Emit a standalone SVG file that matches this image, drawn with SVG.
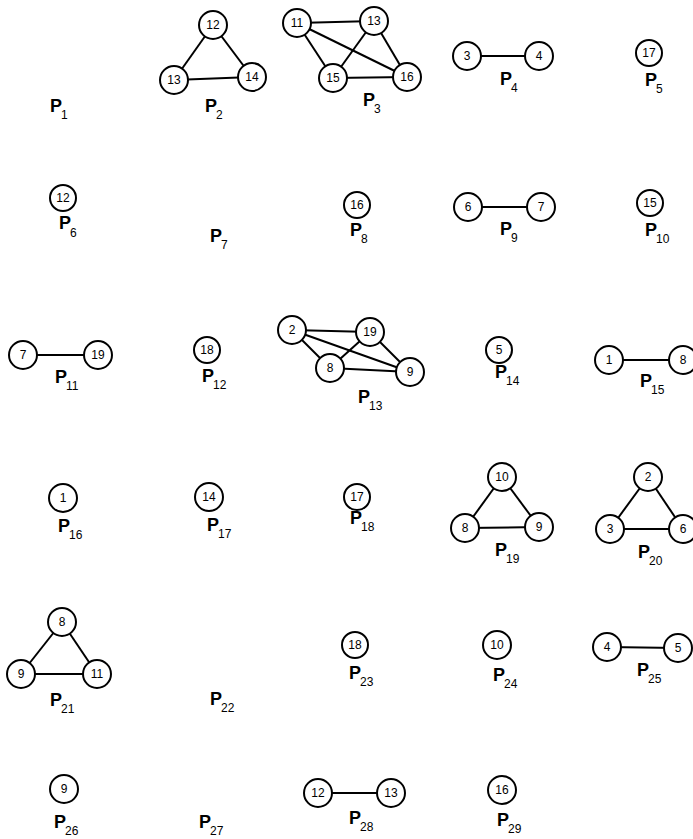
<svg xmlns="http://www.w3.org/2000/svg" width="693" height="839" viewBox="0 0 693 839">
<style>
.bg{fill:#fff}
circle{fill:#fff;stroke:#000;stroke-width:2}
.n{font-family:"Liberation Sans",Arial,sans-serif;font-size:12px;text-anchor:middle;dominant-baseline:central;fill:#000}
.p{font-family:"Liberation Sans",Arial,sans-serif;font-size:18px;font-weight:bold;fill:#000}
.s{font-size:12px;font-weight:normal}
#edges line{stroke:#000;stroke-width:2}
</style>
<rect class="bg" width="693" height="839"/>
<g id="edges">
<line x1="213" y1="25" x2="174" y2="80"/><line x1="213" y1="25" x2="252" y2="77"/><line x1="174" y1="80" x2="252" y2="77"/>
<line x1="297" y1="23" x2="374" y2="21"/><line x1="297" y1="23" x2="333" y2="78"/><line x1="297" y1="23" x2="407" y2="77"/><line x1="374" y1="21" x2="333" y2="78"/><line x1="374" y1="21" x2="407" y2="77"/><line x1="333" y1="78" x2="407" y2="77"/>
<line x1="467" y1="56" x2="539" y2="56"/>
<line x1="468" y1="207" x2="541" y2="207"/>
<line x1="23" y1="355" x2="98" y2="355"/>
<line x1="292" y1="330" x2="370" y2="332"/><line x1="292" y1="330" x2="410" y2="372"/><line x1="292" y1="330" x2="330" y2="368"/><line x1="370" y1="332" x2="330" y2="368"/><line x1="370" y1="332" x2="410" y2="372"/><line x1="330" y1="368" x2="410" y2="372"/>
<line x1="609" y1="360" x2="683" y2="360"/>
<line x1="502" y1="477" x2="465" y2="528"/><line x1="502" y1="477" x2="539" y2="527"/><line x1="465" y1="528" x2="539" y2="527"/>
<line x1="648" y1="477" x2="610" y2="529"/><line x1="648" y1="477" x2="683" y2="529"/><line x1="610" y1="529" x2="683" y2="529"/>
<line x1="62" y1="622" x2="21" y2="674"/><line x1="62" y1="622" x2="97" y2="674"/><line x1="21" y1="674" x2="97" y2="674"/>
<line x1="607" y1="647" x2="678" y2="648"/>
<line x1="318" y1="793" x2="391" y2="793"/>
</g>
<g id="P1"><text class="p" x="50" y="112">P<tspan class="s" dx="-1" dy="7">1</tspan></text></g>
<g id="P2"><circle cx="213" cy="25" r="14"/><text class="n" x="213" y="25">12</text><circle cx="174" cy="80" r="14"/><text class="n" x="174" y="80">13</text><circle cx="252" cy="77" r="14"/><text class="n" x="252" y="77">14</text><text class="p" x="205" y="112">P<tspan class="s" dx="-1" dy="7">2</tspan></text></g>
<g id="P3"><circle cx="297" cy="23" r="14"/><text class="n" x="297" y="23">11</text><circle cx="374" cy="21" r="14"/><text class="n" x="374" y="21">13</text><circle cx="333" cy="78" r="14"/><text class="n" x="333" y="78">15</text><circle cx="407" cy="77" r="14"/><text class="n" x="407" y="77">16</text><text class="p" x="363" y="106">P<tspan class="s" dx="-1" dy="7">3</tspan></text></g>
<g id="P4"><circle cx="467" cy="56" r="14"/><text class="n" x="467" y="56">3</text><circle cx="539" cy="56" r="14"/><text class="n" x="539" y="56">4</text><text class="p" x="500" y="85">P<tspan class="s" dx="-1" dy="7">4</tspan></text></g>
<g id="P5"><circle cx="649" cy="53" r="13"/><text class="n" x="649" y="53">17</text><text class="p" x="645" y="86">P<tspan class="s" dx="-1" dy="7">5</tspan></text></g>
<g id="P6"><circle cx="63" cy="198" r="13"/><text class="n" x="63" y="198">12</text><text class="p" x="59" y="229">P<tspan class="s" dx="-1" dy="8">6</tspan></text></g>
<g id="P7"><text class="p" x="210" y="242">P<tspan class="s" dx="-1" dy="7">7</tspan></text></g>
<g id="P8"><circle cx="357" cy="205" r="13"/><text class="n" x="357" y="205">16</text><text class="p" x="350" y="236">P<tspan class="s" dx="-1" dy="7">8</tspan></text></g>
<g id="P9"><circle cx="468" cy="207" r="14"/><text class="n" x="468" y="207">6</text><circle cx="541" cy="207" r="14"/><text class="n" x="541" y="207">7</text><text class="p" x="500" y="235">P<tspan class="s" dx="-1" dy="7">9</tspan></text></g>
<g id="P10"><circle cx="650" cy="203" r="13"/><text class="n" x="650" y="203">15</text><text class="p" x="645" y="236">P<tspan class="s" dx="-1" dy="7">10</tspan></text></g>
<g id="P11"><circle cx="23" cy="355" r="14"/><text class="n" x="23" y="355">7</text><circle cx="98" cy="355" r="14"/><text class="n" x="98" y="355">19</text><text class="p" x="55" y="383">P<tspan class="s" dx="-1" dy="7">11</tspan></text></g>
<g id="P12"><circle cx="207" cy="350" r="13"/><text class="n" x="207" y="350">18</text><text class="p" x="202" y="382">P<tspan class="s" dx="-1" dy="7">12</tspan></text></g>
<g id="P13"><circle cx="292" cy="330" r="14"/><text class="n" x="292" y="330">2</text><circle cx="370" cy="332" r="14"/><text class="n" x="370" y="332">19</text><circle cx="330" cy="368" r="14"/><text class="n" x="330" y="368">8</text><circle cx="410" cy="372" r="14"/><text class="n" x="410" y="372">9</text><text class="p" x="358" y="403">P<tspan class="s" dx="-1" dy="7">13</tspan></text></g>
<g id="P14"><circle cx="499" cy="350" r="13"/><text class="n" x="499" y="350">5</text><text class="p" x="495" y="378">P<tspan class="s" dx="-1" dy="7">14</tspan></text></g>
<g id="P15"><circle cx="609" cy="360" r="14"/><text class="n" x="609" y="360">1</text><circle cx="683" cy="360" r="14"/><text class="n" x="683" y="360">8</text><text class="p" x="640" y="387">P<tspan class="s" dx="-1" dy="7">15</tspan></text></g>
<g id="P16"><circle cx="63" cy="498" r="14"/><text class="n" x="63" y="498">1</text><text class="p" x="58" y="532">P<tspan class="s" dx="-1" dy="7">16</tspan></text></g>
<g id="P17"><circle cx="209" cy="497" r="14"/><text class="n" x="209" y="497">14</text><text class="p" x="207" y="531">P<tspan class="s" dx="-1" dy="7">17</tspan></text></g>
<g id="P18"><circle cx="357" cy="497" r="13"/><text class="n" x="357" y="497">17</text><text class="p" x="350" y="524">P<tspan class="s" dx="-1" dy="7">18</tspan></text></g>
<g id="P19"><circle cx="502" cy="477" r="14"/><text class="n" x="502" y="477">10</text><circle cx="465" cy="528" r="14"/><text class="n" x="465" y="528">8</text><circle cx="539" cy="527" r="14"/><text class="n" x="539" y="527">9</text><text class="p" x="495" y="556">P<tspan class="s" dx="-1" dy="7">19</tspan></text></g>
<g id="P20"><circle cx="648" cy="477" r="14"/><text class="n" x="648" y="477">2</text><circle cx="610" cy="529" r="14"/><text class="n" x="610" y="529">3</text><circle cx="683" cy="529" r="14"/><text class="n" x="683" y="529">6</text><text class="p" x="638" y="558">P<tspan class="s" dx="-1" dy="7">20</tspan></text></g>
<g id="P21"><circle cx="62" cy="622" r="14"/><text class="n" x="62" y="622">8</text><circle cx="21" cy="674" r="14"/><text class="n" x="21" y="674">9</text><circle cx="97" cy="674" r="14"/><text class="n" x="97" y="674">11</text><text class="p" x="50" y="706">P<tspan class="s" dx="-1" dy="7">21</tspan></text></g>
<g id="P22"><text class="p" x="210" y="705">P<tspan class="s" dx="-1" dy="7">22</tspan></text></g>
<g id="P23"><circle cx="355" cy="645" r="13"/><text class="n" x="355" y="645">18</text><text class="p" x="349" y="679">P<tspan class="s" dx="-1" dy="7">23</tspan></text></g>
<g id="P24"><circle cx="497" cy="645" r="14"/><text class="n" x="497" y="645">10</text><text class="p" x="493" y="681">P<tspan class="s" dx="-1" dy="7">24</tspan></text></g>
<g id="P25"><circle cx="607" cy="647" r="14"/><text class="n" x="607" y="647">4</text><circle cx="678" cy="648" r="14"/><text class="n" x="678" y="648">5</text><text class="p" x="637" y="676">P<tspan class="s" dx="-1" dy="7">25</tspan></text></g>
<g id="P26"><circle cx="64" cy="789" r="14"/><text class="n" x="64" y="789">9</text><text class="p" x="54" y="828">P<tspan class="s" dx="-1" dy="7">26</tspan></text></g>
<g id="P27"><text class="p" x="199" y="828">P<tspan class="s" dx="-1" dy="7">27</tspan></text></g>
<g id="P28"><circle cx="318" cy="793" r="14"/><text class="n" x="318" y="793">12</text><circle cx="391" cy="793" r="14"/><text class="n" x="391" y="793">13</text><text class="p" x="349" y="824">P<tspan class="s" dx="-1" dy="7">28</tspan></text></g>
<g id="P29"><circle cx="502" cy="790" r="14"/><text class="n" x="502" y="790">16</text><text class="p" x="497" y="826">P<tspan class="s" dx="-1" dy="7">29</tspan></text></g>
</svg>
